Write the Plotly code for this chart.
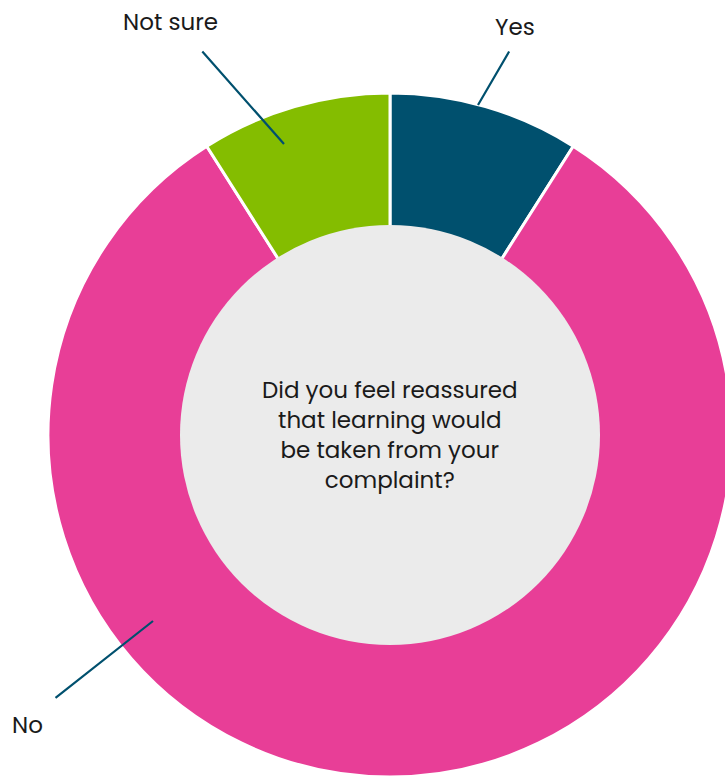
import plotly.graph_objects as go

# Survey answers (share of respondents, %)
answers = ["Yes", "No", "Not sure"]
shares = [9, 82, 9]
colours = ["#00506E", "#E83E97", "#84BD00"]
question = "Did you feel reassured<br>that learning would<br>be taken from your<br>complaint?"

# Canvas in pixels; the ring runs slightly past the visible page edge
W, H = 745, 780
cx, cy = 390, 435
r_out, r_in = 342, 210
FONT = "Poppins, Inter, sans-serif"
INK = "#1a1a1a"
LEADER = "#00506E"


def px_x(x):
    return x / W


def px_y(y):
    return 1 - y / H


fig = go.Figure()

# Outer ring
fig.add_trace(go.Pie(
    labels=answers,
    values=shares,
    sort=False,
    direction="clockwise",
    rotation=0,
    hole=0.6,
    marker=dict(colors=colours, line=dict(color="white", width=3)),
    textinfo="none",
    hoverinfo="label+percent",
    showlegend=False,
    domain=dict(x=[px_x(cx - r_out), px_x(cx + r_out)],
                y=[px_y(cy + r_out), px_y(cy - r_out)]),
))

# Grey disc in the middle of the ring
fig.add_trace(go.Pie(
    labels=[""],
    values=[1],
    marker=dict(colors=["#EBEBEB"], line=dict(width=0)),
    textinfo="none",
    hoverinfo="skip",
    showlegend=False,
    domain=dict(x=[px_x(cx - r_in), px_x(cx + r_in)],
                y=[px_y(cy + r_in), px_y(cy - r_in)]),
))

annotations = [
    dict(x=px_x(cx), y=px_y(cy), xref="paper", yref="paper",
         xanchor="center", yanchor="middle",
         text=question, showarrow=False,
         font=dict(family=FONT, size=23, color=INK), align="center"),
]

# Label text centres and leader lines (pixel positions on the canvas)
label_text = {"Yes": (515, 27), "No": (28, 725), "Not sure": (170, 22)}
leaders = {"Yes": ((478, 105), (510, 50)),
           "No": ((153, 621), (54, 699)),
           "Not sure": ((284, 144), (201, 50))}

for name in answers:
    tx, ty = label_text[name]
    annotations.append(dict(
        x=px_x(tx), y=px_y(ty), xref="paper", yref="paper",
        xanchor="center", yanchor="middle",
        text=name, showarrow=False,
        font=dict(family=FONT, size=23, color=INK)))
    (x0, y0), (x1, y1) = leaders[name]
    annotations.append(dict(
        x=px_x(x0), y=px_y(y0), xref="paper", yref="paper",
        ax=x1 - x0, ay=y1 - y0, axref="pixel", ayref="pixel",
        text="", showarrow=True, arrowhead=0, arrowwidth=2.2,
        arrowcolor=LEADER, standoff=0, startstandoff=0))

fig.update_layout(
    width=W, height=H,
    margin=dict(l=0, r=0, t=0, b=0),
    paper_bgcolor="white",
    plot_bgcolor="white",
    annotations=annotations,
)

fig.write_html(
    "out.html",
    config={"displayModeBar": False},
    post_script="document.documentElement.style.overflow='hidden';"
                "document.body.style.overflow='hidden';"
                "document.body.style.margin='0';",
)
